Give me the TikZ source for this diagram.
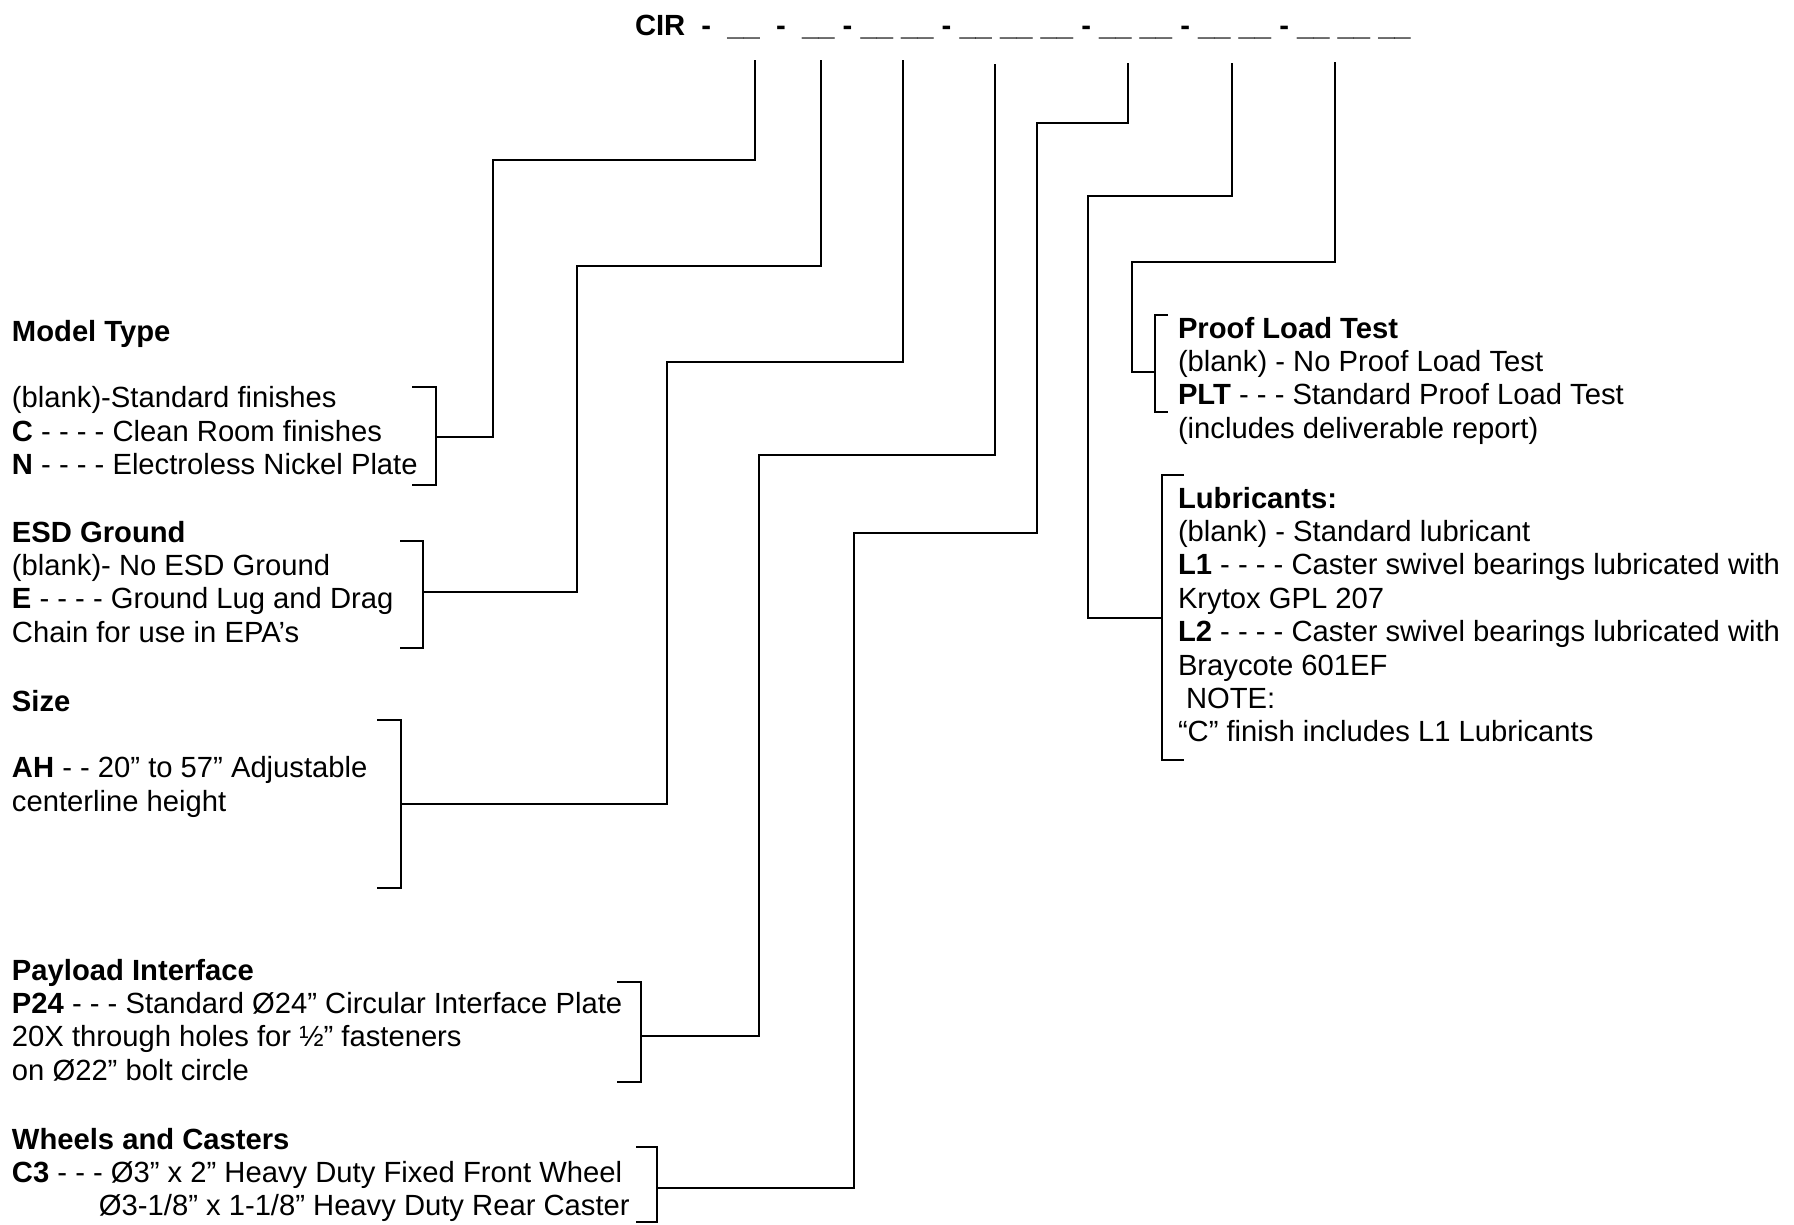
\documentclass[tikz,border=0pt]{standalone}
\usepackage{fontspec}
\setmainfont{Liberation Sans}
\usetikzlibrary{positioning}

\begin{document}
\begin{tikzpicture}[x=1pt,y=-1pt,line width=1.8pt]
\tikzstyle{every node}=[inner sep=0pt,outer sep=0pt]
\tikzstyle{block}=[anchor=north west,align=left,font=\fontsize{29.2}{33.4}\selectfont]
\tikzstyle{code}=[anchor=base west,font=\fontsize{29.2}{33.4}\selectfont\bfseries]
\useasboundingbox (0,0) rectangle (1794,1224);
\node[code] at (635,35) (pn) {CIR\ \ -\ \ \_\_\ \ -\ \ \_\_ - \_\_ \_\_ - \_\_ \_\_ \_\_ - \_\_ \_\_ - \_\_ \_\_ - \_\_ \_\_ \_\_};
\node[block] at (12,320) (model) {\textbf{Model Type}\\[33.4pt]
(blank)-Standard finishes\\
\textbf{C} - - - - Clean Room finishes\\
\textbf{N} - - - - Electroless Nickel Plate};
\node[block] at (12,521) (esd) {\textbf{ESD Ground}\\
(blank)- No ESD Ground\\
\textbf{E} - - - - Ground Lug and Drag\\
Chain for use in EPA’s};
\node[block] at (12,690) (size) {\textbf{Size}\\[33.4pt]
\textbf{AH} - - 20” to 57” Adjustable\\
centerline height};
\node[block] at (12,959) (payload) {\textbf{Payload Interface}\\
\textbf{P24} - - - Standard Ø24” Circular Interface Plate\\
20X through holes for ½” fasteners\\
on Ø22” bolt circle};
\node[block] at (12,1128) (wheels) {\textbf{Wheels and Casters}\\
\textbf{C3} - - - Ø3” x 2” Heavy Duty Fixed Front Wheel\\
\hspace*{87pt}Ø3-1/8” x 1-1/8” Heavy Duty Rear Caster};
\node[block] at (1178,317) (proof) {\textbf{Proof Load Test}\\
(blank) - No Proof Load Test\\
\textbf{PLT} - - - Standard Proof Load Test\\
(includes deliverable report)};
\node[block] at (1178,487) (lube) {\textbf{Lubricants:}\\
(blank) - Standard lubricant\\
\textbf{L1} - - - - Caster swivel bearings lubricated with\\
Krytox GPL 207\\
\textbf{L2} - - - - Caster swivel bearings lubricated with\\
Braycote 601EF\\
\hspace*{8pt}NOTE:\\
“C” finish includes L1 Lubricants};
 %slots
\coordinate (s1) at (755,60);
\coordinate (s2) at (821,60);
\coordinate (s3) at (903,60);
\coordinate (s4) at (995,64);
\coordinate (s5) at (1128,63);
\coordinate (s6) at (1232,63);
\coordinate (s7) at (1335,62);
 %brackets
\draw (412,387) -- (436,387) -- (436,485) -- (412,485);
\draw (400,541) -- (423,541) -- (423,648) -- (400,648);
\draw (377,720) -- (401,720) -- (401,888) -- (377,888);
\draw (617,982) -- (641,982) -- (641,1082) -- (617,1082);
\draw (636,1147) -- (657,1147) -- (657,1222) -- (636,1222);
\draw (1168,315) -- (1155,315) -- (1155,412) -- (1168,412);
\draw (1184,475) -- (1162,475) -- (1162,760) -- (1184,760);
\coordinate (b1) at (436,437);
\coordinate (b2) at (423,592);
\coordinate (b3) at (401,804);
\coordinate (b4) at (641,1036);
\coordinate (b5) at (657,1188);
\coordinate (b6) at (1162,618);
\coordinate (b7) at (1155,372);
 %leaders
\draw (s1) |- (493,160) |- (b1);
\draw (s2) |- (577,266) |- (b2);
\draw (s3) |- (667,362) |- (b3);
\draw (s4) |- (759,455) |- (b4);
\draw (s5) |- (1037,123) |- (854,533) |- (b5);
\draw (s6) |- (1088,196) |- (b6);
\draw (s7) |- (1132,262) |- (b7);
\end{tikzpicture}
\end{document}
